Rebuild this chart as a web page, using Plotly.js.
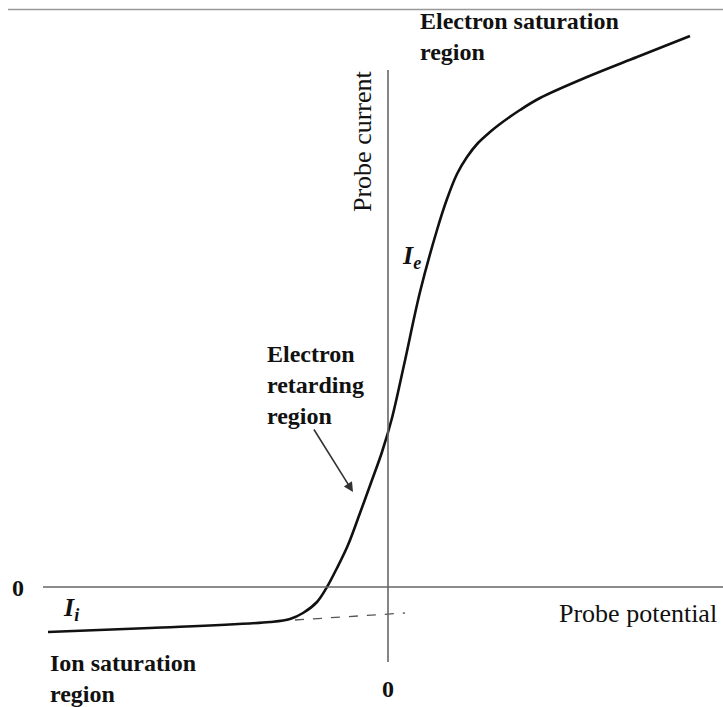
<!DOCTYPE html>
<html>
<head>
<meta charset="utf-8">
<script src="https://cdn.plot.ly/plotly-3.0.1.min.js"></script>
<style>html,body{margin:0;padding:0;background:#fff;}#chart{width:723px;height:707px;}</style>
</head>
<body>
<div id="chart"></div>
<script>
// Probe potential (x) and probe current (y), arbitrary units, origin at the axes crossing
const potential = [-3.40, -2.38, -1.18, -0.98, -0.85, -0.71, -0.61, -0.51, -0.40, -0.28, -0.16, -0.06, 0.04, 0.16, 0.32, 0.49, 0.59, 0.69, 0.79, 0.90, 1.02, 1.12, 1.32, 1.52, 1.99, 2.49, 3.02];
const current   = [-0.45, -0.41, -0.35, -0.32, -0.26, -0.15,  0.00,  0.19,  0.42,  0.74,  1.07,  1.35, 1.69, 2.22, 2.95, 3.57, 3.88, 4.13, 4.30, 4.44, 4.55, 4.63, 4.77, 4.89, 5.10, 5.30, 5.51];
// Ion saturation current extrapolation (dashed)
const ionExtrapX = [-0.93, 0.17];
const ionExtrapY = [-0.33, -0.26];

const serif = "Liberation Serif, Times New Roman, serif";
const axisColor = "#666";

const traces = [
  {x: potential, y: current, mode: "lines", line: {color: "#111", width: 2.6, shape: "spline", smoothing: 1}, hoverinfo: "skip"},
  {x: ionExtrapX, y: ionExtrapY, mode: "lines", line: {color: "#555", width: 1.3, dash: "dash"}, hoverinfo: "skip"}
];

function lbl(text, x, y, size, opts) {
  return Object.assign({text: text, x: x, y: y, xref: "x", yref: "y", showarrow: false,
    xanchor: "left", yanchor: "middle", align: "left", font: {family: serif, size: size, color: "#111"}}, opts || {});
}

const annotations = [
  lbl("<b>Electron saturation<br>region</b>", 0.30, 5.51, 24),
  lbl("<b>Electron<br>retarding<br>region</b>", -1.23, 2.02, 24),
  lbl("<b>Ion saturation<br>region</b>", -3.40, -0.91, 24),
  lbl("<b>0</b>", -3.70, -0.01, 24, {xanchor: "center"}),
  lbl("<b>0</b>", 0.00, -1.02, 24, {xanchor: "center"}),
  lbl("<b><i>I</i></b><sub><b><i>i</i></b></sub>", -3.27, -0.22, 26),
  lbl("<b><i>I</i></b><sub><b><i>e</i></b></sub>", 0.12, 3.30, 26),
  lbl("Probe potential", 1.69, -0.26, 26),
  lbl("Probe current", -0.26, 4.46, 26, {xanchor: "center", textangle: -90}),
  {x: -0.35, y: 0.95, ax: -0.75, ay: 1.59, xref: "x", yref: "y", axref: "x", ayref: "y",
   showarrow: true, arrowhead: 2, arrowsize: 1.2, arrowwidth: 1.6, arrowcolor: "#333", text: ""}
];

const shapes = [
  {type: "line", xref: "x", yref: "y", x0: 0, x1: 0, y0: -0.75, y1: 5.17, line: {color: axisColor, width: 1.6}},
  {type: "line", xref: "x", yref: "y", x0: -3.45, x1: 3.40, y0: 0, y1: 0, line: {color: axisColor, width: 1.6}},
  {type: "line", xref: "x", yref: "y", x0: -3.80, x1: 3.40, y0: 5.775, y1: 5.775, line: {color: "#999", width: 1.5}}
];

const layout = {
  width: 723, height: 707, autosize: false,
  margin: {l: 0, r: 0, t: 0, b: 0},
  paper_bgcolor: "#fff", plot_bgcolor: "#fff",
  showlegend: false,
  xaxis: {range: [-3.88, 3.35], visible: false, fixedrange: true},
  yaxis: {range: [-1.20, 5.87], visible: false, fixedrange: true},
  annotations: annotations,
  shapes: shapes
};

Plotly.newPlot("chart", traces, layout, {displayModeBar: false, staticPlot: true});
</script>
</body>
</html>
